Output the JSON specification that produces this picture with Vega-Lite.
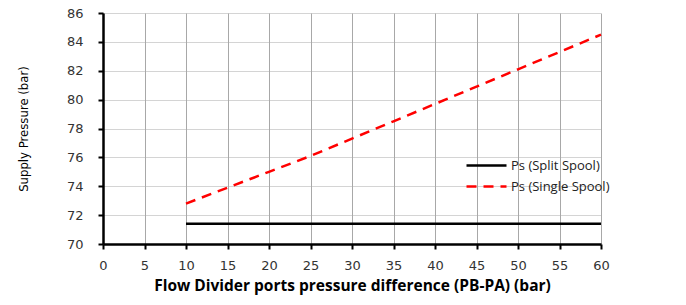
{
  "$schema": "https://vega.github.io/schema/vega-lite/v6.json",
  "width": 498,
  "height": 231,
  "autosize": {"type": "none"},
  "padding": {"left": 103, "top": 13, "right": 85, "bottom": 61},
  "background": "white",
  "config": {
    "view": {"stroke": null},
    "axis": {
      "domainColor": "black", "domainWidth": 2.5, "tickColor": "black", "tickWidth": 2, "tickSize": 5,
      "labelFont": "DejaVu Sans", "labelFontSize": 13, "labelColor": "#333",
      "titleColor": "black", "gridColor": "#a8a8a8", "gridWidth": 1
    }
  },
  "data": {"values": [
    {"series": "Ps (Split Spool)", "x": 10, "y": 71.4},
    {"series": "Ps (Split Spool)", "x": 20, "y": 71.4},
    {"series": "Ps (Split Spool)", "x": 30, "y": 71.4},
    {"series": "Ps (Split Spool)", "x": 40, "y": 71.4},
    {"series": "Ps (Split Spool)", "x": 50, "y": 71.4},
    {"series": "Ps (Split Spool)", "x": 60, "y": 71.4},
    {"series": "Ps (Single Spool)", "x": 10, "y": 72.8},
    {"series": "Ps (Single Spool)", "x": 15, "y": 73.9},
    {"series": "Ps (Single Spool)", "x": 20, "y": 75.0},
    {"series": "Ps (Single Spool)", "x": 25, "y": 76.1},
    {"series": "Ps (Single Spool)", "x": 30, "y": 77.3},
    {"series": "Ps (Single Spool)", "x": 35, "y": 78.5},
    {"series": "Ps (Single Spool)", "x": 40, "y": 79.7},
    {"series": "Ps (Single Spool)", "x": 45, "y": 80.9},
    {"series": "Ps (Single Spool)", "x": 50, "y": 82.1},
    {"series": "Ps (Single Spool)", "x": 55, "y": 83.3},
    {"series": "Ps (Single Spool)", "x": 60, "y": 84.5}
  ]},
  "mark": {"type": "line", "strokeWidth": 2.5},
  "encoding": {
    "x": {
      "field": "x", "type": "quantitative",
      "scale": {"domain": [0, 60], "nice": false, "zero": false},
      "axis": {
        "values": [0,5,10,15,20,25,30,35,40,45,50,55,60],
        "title": "Flow Divider ports pressure difference (PB-PA) (bar)",
        "titleFont": "Open Sans", "titleFontSize": 15.5, "titleFontWeight": "bold",
        "titlePadding": 6, "labelPadding": 10, "gridDash": [], "labelFlush": false
      }
    },
    "y": {
      "field": "y", "type": "quantitative",
      "scale": {"domain": [70, 86], "nice": false, "zero": false},
      "axis": {
        "values": [70,72,74,76,78,80,82,84,86],
        "title": "Supply Pressure (bar)",
        "titleFont": "DejaVu Sans Condensed", "titleFontSize": 13, "titleFontWeight": "normal",
        "titlePadding": 36, "labelPadding": 15, "gridDash": [1, 1], "labelFlush": false
      }
    },
    "color": {
      "field": "series", "type": "nominal",
      "scale": {"domain": ["Ps (Split Spool)", "Ps (Single Spool)"], "range": ["black", "#ff0000"]},
      "legend": {
        "title": null, "orient": "none", "legendX": 362, "legendY": 141,
        "symbolType": "M-2,0H2", "symbolSize": 400, "symbolStrokeWidth": 2.5, "symbolOffset": 10,
        "labelFont": "Open Sans", "labelFontSize": 13, "labelColor": "#222",
        "rowPadding": 2, "labelOffset": 13
      }
    },
    "strokeDash": {
      "field": "series", "type": "nominal",
      "scale": {"domain": ["Ps (Split Spool)", "Ps (Single Spool)"], "range": [[1, 0], [10, 7]]},
      "legend": {
        "title": null, "orient": "none", "legendX": 362, "legendY": 141,
        "symbolType": "M-2,0H2", "symbolSize": 400, "symbolStrokeWidth": 2.5, "symbolOffset": 10,
        "labelFont": "Open Sans", "labelFontSize": 13, "labelColor": "#222",
        "rowPadding": 2, "labelOffset": 13
      }
    }
  }
}
